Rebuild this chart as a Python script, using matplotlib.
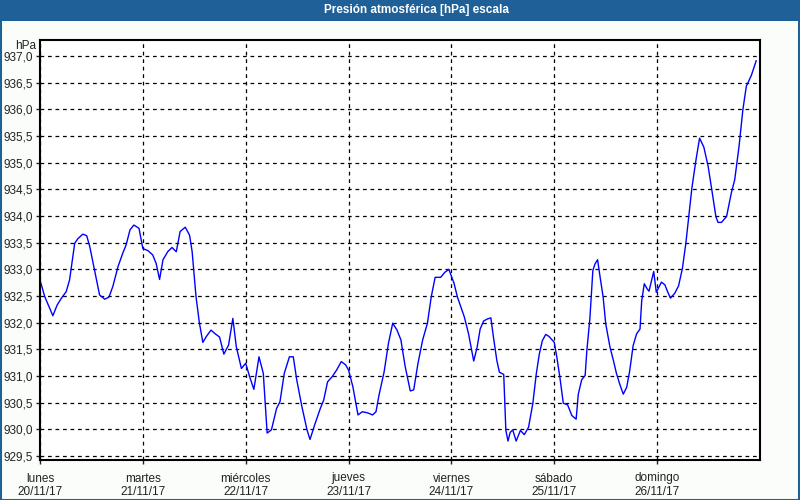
import matplotlib.pyplot as plt
import matplotlib.ticker as ticker
from matplotlib.patches import Rectangle

# hours since lunes 20/11/17 00:00 and pressure
hours = [0.0, 1.1, 3.0, 4.0, 5.0, 6.1, 6.9, 8.1, 8.9, 10.0, 10.9, 11.6, 12.7, 13.9,
         15.1, 16.1, 17.0, 18.2, 19.3, 20.1, 21.0, 21.9, 23.1, 24.0, 25.2, 26.3,
         27.1, 27.9, 28.7, 29.8, 30.8, 31.8, 32.7, 33.9, 34.9, 35.5, 36.4, 37.2,
         38.0, 38.8, 39.9, 40.9, 41.9, 42.9, 44.0, 45.0, 45.8, 47.0, 48.0, 48.9,
         49.9, 51.1, 52.1, 53.0, 54.0, 55.2, 56.0, 57.0, 58.2, 59.1, 59.9, 61.1,
         62.3, 63.0, 64.2, 65.4, 66.2, 67.1, 68.2, 69.2, 70.3, 71.3, 72.0, 73.0,
         74.2, 75.2, 76.4, 77.6, 78.4, 79.1, 80.3, 81.3, 82.3, 83.3, 84.2, 85.2,
         86.4, 87.2, 88.2, 89.3, 90.4, 91.3, 92.2, 93.5, 94.4, 95.4, 96.6, 97.4,
         98.1, 99.0, 100.0, 100.6, 101.2, 102.0, 102.7, 103.5, 104.4, 105.2,
         105.8, 106.6, 107.2, 108.2, 108.7, 109.2, 109.7, 110.3, 111.1, 112.1,
         113.0, 114.0, 115.0, 115.8, 116.5, 117.2, 118.0, 118.8, 120.0, 120.6,
         121.3, 122.1, 123.1, 124.1, 125.1, 125.6, 126.4, 127.2, 127.6, 128.3,
         129.0, 129.5, 130.1, 130.7, 131.4, 132.0, 133.0, 133.8, 134.5, 135.3,
         136.1, 136.9, 137.6, 138.4, 139.2, 140.0, 140.4, 141.0, 141.7, 142.1,
         142.7, 143.2, 143.8, 144.5, 145.0, 145.8, 146.5, 147.1, 148.1, 149.0,
         149.9, 150.7, 151.5, 152.1, 153.0, 153.9, 154.9, 155.9, 156.7, 157.7,
         158.2, 159.0, 160.2, 161.3, 162.1, 163.1, 164.0, 164.8, 166.0, 167.1]

pressure = [932.80, 932.49, 932.13, 932.33, 932.46, 932.58, 932.80, 933.49, 933.58,
            933.66, 933.63, 933.43, 932.99, 932.52, 932.44, 932.48, 932.68, 933.05,
            933.30, 933.46, 933.74, 933.83, 933.77, 933.39, 933.35, 933.27, 933.11,
            932.81, 933.18, 933.33, 933.41, 933.33, 933.71, 933.79, 933.64, 933.33,
            932.49, 931.99, 931.63, 931.74, 931.86, 931.79, 931.73, 931.41, 931.58,
            932.08, 931.55, 931.14, 931.24, 930.99, 930.75, 931.36, 931.05, 929.93,
            929.99, 930.39, 930.52, 931.05, 931.36, 931.36, 930.93, 930.43, 929.99,
            929.81, 930.11, 930.39, 930.55, 930.89, 930.99, 931.11, 931.27, 931.21,
            931.11, 930.80, 930.27, 930.33, 930.31, 930.27, 930.33, 930.64, 931.08,
            931.61, 931.99, 931.86, 931.68, 931.18, 930.72, 930.74, 931.24, 931.68,
            931.99, 932.49, 932.85, 932.85, 932.94, 933.00, 932.74, 932.48, 932.32,
            932.11, 931.79, 931.54, 931.28, 931.54, 931.88, 932.03, 932.07, 932.09,
            931.73, 931.29, 931.07, 931.03, 929.98, 929.78, 929.94, 929.99, 929.78,
            929.98, 929.90, 930.04, 930.49, 931.04, 931.41, 931.66, 931.78, 931.74,
            931.63, 931.35, 930.98, 930.49, 930.46, 930.26, 930.19, 930.66, 930.93,
            931.01, 931.48, 932.07, 932.98, 933.10, 933.18, 932.85, 932.48, 931.98,
            931.54, 931.29, 931.05, 930.84, 930.66, 930.79, 931.10, 931.57, 931.79,
            931.88, 932.41, 932.73, 932.63, 932.59, 932.79, 932.96, 932.57, 932.68,
            932.76, 932.71, 932.57, 932.46, 932.55, 932.69, 933.02, 933.49, 934.08,
            934.52, 935.02, 935.46, 935.29, 934.93, 934.52, 933.99, 933.88, 933.88,
            933.99, 934.43, 934.68, 935.30, 935.99, 936.43, 936.64, 936.91]

day_names = ['lunes', 'martes', 'miércoles', 'jueves', 'viernes', 'sábado', 'domingo']
day_dates = ['20/11/17', '21/11/17', '22/11/17', '23/11/17', '24/11/17', '25/11/17', '26/11/17']

title = 'Presión atmosférica [hPa] escala'
bar_blue = '#1f6098'
bg = '#fbfdfb'
txt = '#222222'

plt.rcParams['font.family'] = ['Liberation Sans', 'DejaVu Sans']

fig = plt.figure(figsize=(8, 5), dpi=100, facecolor=bg)

# title bar and window frame
fig.patches.append(Rectangle((0, 1 - 21 / 500), 1, 21 / 500, transform=fig.transFigure,
                             facecolor=bar_blue, edgecolor='none', zorder=0))
fig.patches.append(Rectangle((0.5 / 800, 0.5 / 500), 1 - 1.5 / 800, 1 - 1 / 500,
                             transform=fig.transFigure, facecolor='none',
                             edgecolor=bar_blue, linewidth=1.5, zorder=0))
fig.text(416 / 800, 1 - 10.5 / 500, title, color='white', fontsize=8.5, fontweight='bold',
         ha='center', va='center')

ax = fig.add_axes([40 / 800, 40 / 500, 720 / 800, 420 / 500])
ax.set_facecolor('white')
ax.plot(hours, pressure, color='#0000ff', linewidth=1)

ax.set_xlim(0, 168)
ax.set_ylim(929.425, 937.3)

ax.xaxis.set_major_locator(ticker.FixedLocator([24 * i for i in range(7)]))
ax.set_xticklabels([f'{n}\n{d}' for n, d in zip(day_names, day_dates)])
ax.yaxis.set_major_locator(ticker.MultipleLocator(0.5))
ax.yaxis.set_major_formatter(ticker.FuncFormatter(lambda v, p: f'{v:.1f}'.replace('.', ',')))

ax.tick_params(axis='both', labelsize=8.5, colors=txt, length=3, width=1)
ax.tick_params(axis='x', pad=6)
ax.tick_params(axis='y', pad=2)

ax.grid(True, color='black', linestyle=(0, (3, 3)), linewidth=0.9)
for s in ax.spines.values():
    s.set_linewidth(1.5)
    s.set_color('black')

ax.text(-4 / 720, 1 - 6 / 420, 'hPa', transform=ax.transAxes, fontsize=8.5,
        color=txt, ha='right', va='center')

plt.savefig('out.png', dpi=100, facecolor=bg)
